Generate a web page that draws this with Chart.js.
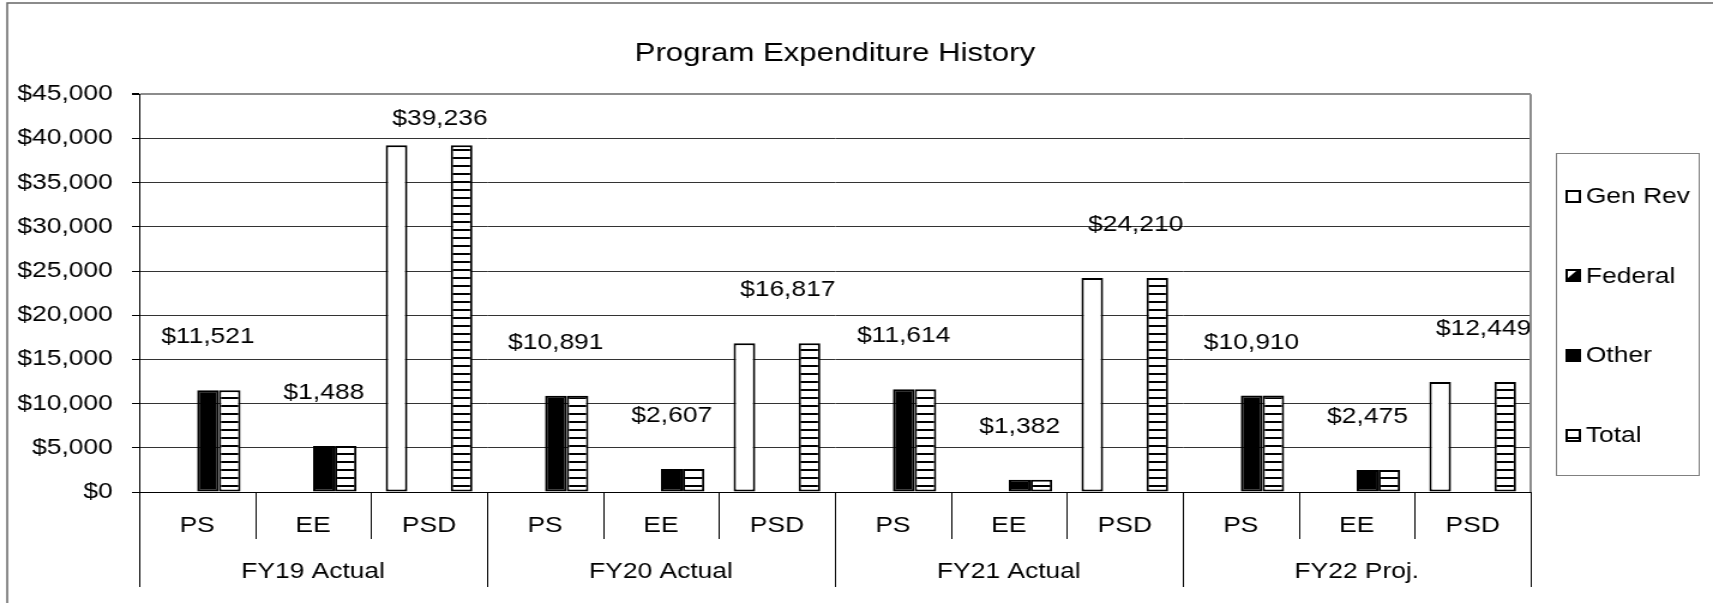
<!DOCTYPE html>
<html>
<head>
<meta charset="utf-8">
<title>Program Expenditure History</title>
<script src="https://cdn.jsdelivr.net/npm/chart.js@4.4.1/dist/chart.umd.min.js"></script>
<style>
  html, body { margin: 0; padding: 0; background: #fff; overflow: hidden; }
  /* the source picture is stretched sideways (~1.2x), so the canvas is drawn narrower and stretched the same way */
  #chart { display: block; width: 1713px !important; height: 603px !important; }
</style>
</head>
<body>
<canvas id="chart" width="1428" height="603" style="width:1713px;height:603px"></canvas>
<script>
// data
const categories = ['PS', 'EE', 'PSD', 'PS', 'EE', 'PSD', 'PS', 'EE', 'PSD', 'PS', 'EE', 'PSD'];
const fiscalYears = ['FY19 Actual', 'FY20 Actual', 'FY21 Actual', 'FY22 Proj.'];
const seriesNames = ['Gen Rev', 'Federal', 'Other', 'Total'];
const genRev  = [0, 0, 39236, 0, 0, 16817, 0, 0, 24210, 0, 0, 12449];
const federal = [0, 0, 0, 0, 0, 0, 0, 0, 0, 0, 0, 0];
const other   = [11521, 5200, 0, 10891, 2607, 0, 11614, 1382, 0, 10910, 2475, 0];
const total   = [11521, 5200, 39236, 10891, 2607, 16817, 11614, 1382, 24210, 10910, 2475, 12449];
const totalLabels = [11521, 1488, 39236, 10891, 2607, 16817, 11614, 1382, 24210, 10910, 2475, 12449];
const yMin = 0, yMax = 45000, yStep = 5000;

const FONT = '"Liberation Sans", Arial, sans-serif';
Chart.defaults.font.family = FONT;
Chart.defaults.color = '#000';

const canvas = document.getElementById('chart');
const ctx0 = canvas.getContext('2d');

function makePattern(draw) {
  const tile = document.createElement('canvas');
  tile.width = 8; tile.height = 8;
  const g = tile.getContext('2d');
  g.fillStyle = '#fff'; g.fillRect(0, 0, 8, 8);
  g.fillStyle = '#000';
  draw(g);
  return ctx0.createPattern(tile, 'repeat');
}
const hStripes = makePattern(g => g.fillRect(0, 5, 8, 2));
const diagonal = makePattern(g => { g.beginPath(); g.moveTo(8, 0); g.lineTo(8, 8); g.lineTo(0, 8); g.fill(); });

const fmt = v => '$' + v.toLocaleString('en-US');

// totals written above each group
const totalsPlugin = {
  id: 'totals',
  afterDatasetsDraw(chart) {
    const { ctx, chartArea, scales: { x, y } } = chart;
    ctx.save();
    ctx.font = '22px ' + FONT;
    ctx.fillStyle = '#000';
    ctx.textAlign = 'center';
    ctx.textBaseline = 'middle';
    totalLabels.forEach((v, i) => {
      const px = x.getPixelForValue(i) + 9;
      const py = Math.max(y.getPixelForValue(total[i]) - 53, chartArea.top + 25);
      ctx.fillText(fmt(v), px, py);
    });
    ctx.restore();
  }
};

// category separators, year labels, legend box, frames
const framePlugin = {
  id: 'frame',
  afterDraw(chart) {
    const { ctx, chartArea: a, scales: { x } } = chart;
    ctx.save();

    // plot border on the right
    ctx.strokeStyle = '#8c8c8c';
    ctx.lineWidth = 2;
    ctx.beginPath(); ctx.moveTo(a.right, a.top); ctx.lineTo(a.right, a.bottom); ctx.stroke();

    // two-level axis separators
    ctx.strokeStyle = '#000';
    ctx.lineWidth = 1;
    for (let i = 0; i <= categories.length; i++) {
      const px = Math.round(x.getPixelForValue(i - 0.5)) + 0.5;
      const len = i % 3 === 0 ? 95 : 47;
      ctx.beginPath(); ctx.moveTo(px, a.bottom); ctx.lineTo(px, a.bottom + len); ctx.stroke();
    }
    ctx.font = '22px ' + FONT;
    ctx.fillStyle = '#000';
    ctx.textAlign = 'center';
    ctx.textBaseline = 'middle';
    fiscalYears.forEach((fy, g) => {
      ctx.fillText(fy, x.getPixelForValue(g * 3 + 1), a.bottom + 80);
    });

    // legend
    const lx = a.right + 21, ly = 153, lw = 119, lh = 322;
    ctx.strokeStyle = '#808080';
    ctx.lineWidth = 1;
    ctx.strokeRect(lx + 0.5, ly + 0.5, lw, lh);
    ctx.textAlign = 'left';
    chart.data.datasets.forEach((ds, i) => {
      const cy = 196 + i * 79.7;
      const bx = lx + 8, by = Math.round(cy - 6.5), s = 13;
      if (i === 0) { ctx.fillStyle = '#fff'; ctx.fillRect(bx, by, s, s); }
      if (i === 1) {
        ctx.fillStyle = '#000'; ctx.fillRect(bx, by, s, s);
        ctx.fillStyle = '#fff';
        ctx.beginPath(); ctx.moveTo(bx + 2, by + 2); ctx.lineTo(bx + s - 4, by + 2); ctx.lineTo(bx + 2, by + s - 4); ctx.fill();
      }
      if (i === 2) { ctx.fillStyle = '#000'; ctx.fillRect(bx, by, s, s); }
      if (i === 3) {
        ctx.fillStyle = '#fff'; ctx.fillRect(bx, by, s, s);
        ctx.fillStyle = '#000'; ctx.fillRect(bx, by + 8, s, 2);
      }
      ctx.strokeStyle = '#000';
      ctx.lineWidth = 2;
      ctx.strokeRect(bx + 1, by + 1, s - 2, s - 2);
      ctx.fillStyle = '#000';
      ctx.fillText(ds.label, lx + 25, cy + 1);
    });

    // outer chart frame (only top and left edges fall inside the picture)
    ctx.strokeStyle = '#666';
    ctx.lineWidth = 1.5;
    ctx.beginPath();
    ctx.moveTo(6, chart.height); ctx.lineTo(6, 3); ctx.lineTo(chart.width, 3);
    ctx.stroke();
    ctx.restore();
  }
};

const barStyle = { borderColor: '#000', borderWidth: 2, borderSkipped: false, categoryPercentage: 0.748, barPercentage: 1 };

new Chart(canvas, {
  type: 'bar',
  data: {
    labels: categories,
    datasets: [
      { label: seriesNames[0], data: genRev, backgroundColor: '#fff', ...barStyle },
      { label: seriesNames[1], data: federal, backgroundColor: diagonal, ...barStyle },
      { label: seriesNames[2], data: other, backgroundColor: '#000', ...barStyle },
      { label: seriesNames[3], data: total, backgroundColor: hStripes, ...barStyle }
    ]
  },
  options: {
    responsive: false,
    maintainAspectRatio: false,
    devicePixelRatio: 1,
    animation: false,
    events: [],
    layout: { padding: { left: 0, right: 152, top: 0, bottom: 0 } },
    plugins: {
      legend: { display: false },
      tooltip: { enabled: false },
      title: {
        display: true,
        text: 'Program Expenditure History',
        fullSize: false,
        color: '#000',
        font: { size: 26, weight: 'normal' },
        padding: { top: 38, bottom: 25 }
      }
    },
    scales: {
      x: {
        ticks: { padding: 21, color: '#000', font: { size: 22 }, maxRotation: 0, autoSkip: false },
        grid: { display: false, drawTicks: false },
        border: { display: true, color: '#000', width: 1 },
        afterFit(s) { s.height = 111; }
      },
      y: {
        min: yMin,
        max: yMax,
        ticks: { stepSize: yStep, padding: 16, color: '#000', font: { size: 22 }, callback: v => fmt(v) },
        grid: {
          color: c => (c.tick && c.tick.value === yMax ? '#8c8c8c' : '#333'),
          lineWidth: c => (c.tick && c.tick.value === yMax ? 2 : 1),
          tickLength: 6,
          tickColor: '#000'
        },
        border: { display: true, color: '#000', width: 1 },
        afterFit(s) { s.width = 116; }
      }
    }
  },
  plugins: [totalsPlugin, framePlugin]
});
</script>
</body>
</html>
